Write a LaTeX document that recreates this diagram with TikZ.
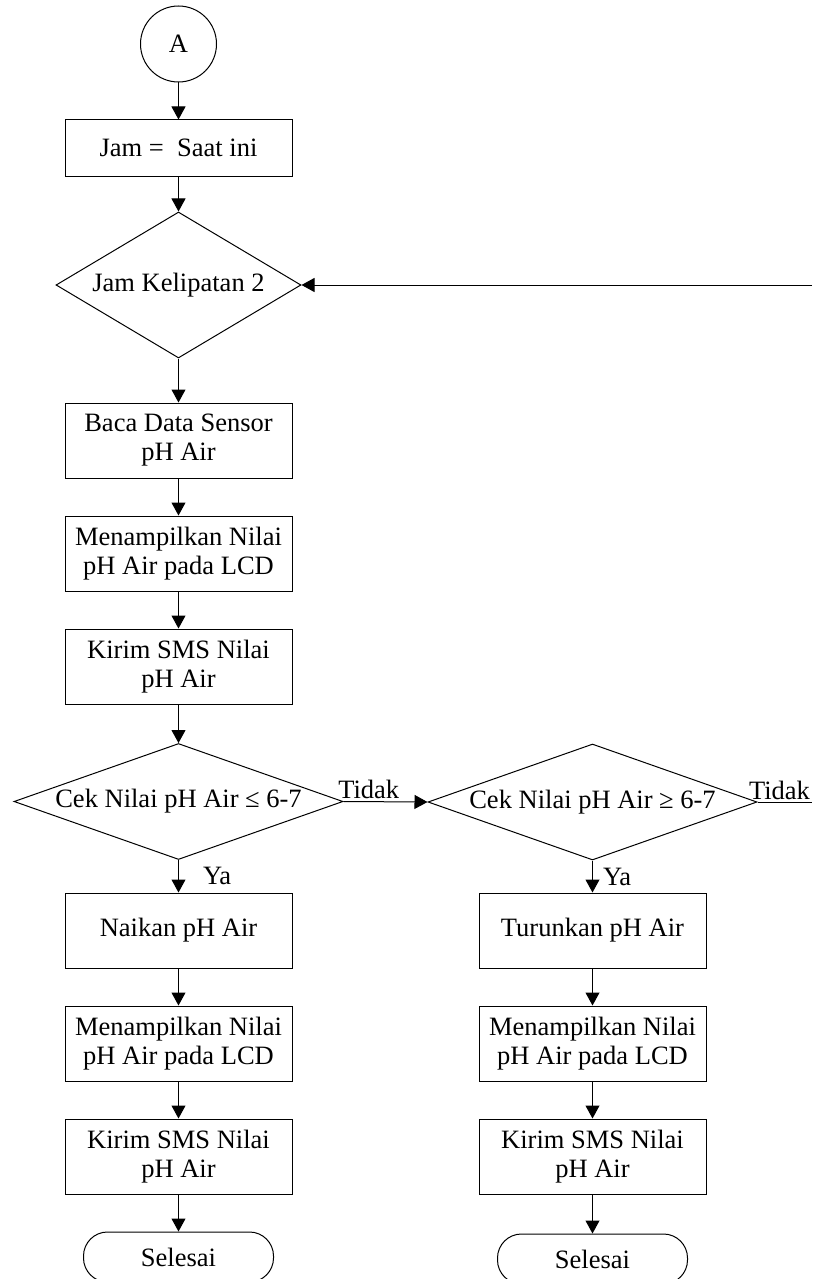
\documentclass[tikz,border=0pt]{standalone}
\usepackage{fontspec}
\setmainfont{Liberation Serif}
\usetikzlibrary{shapes.geometric,arrows.meta}
\begin{document}
\begin{tikzpicture}[x=1pt, y=-1pt,
  font=\fontsize{26.5}{29}\selectfont,
  line width=1pt,
  >={Triangle[length=13pt,width=14pt]},
  procbox/.style={draw, align=center, minimum width=227pt, minimum height=75pt, inner sep=0pt},
  decision/.style={draw, diamond, align=center, inner sep=0pt, minimum width=329pt, minimum height=116pt, aspect=2.8},
  endbox/.style={draw, rounded corners=24pt, minimum width=190pt, minimum height=50pt, inner sep=0pt},
  connector/.style={draw, circle, minimum size=76pt, inner sep=0pt},
  lbl/.style={inner sep=2pt}]
\useasboundingbox (0,0) rectangle (812,1279);
\node[connector] (a) at (178.5,44) {A};
\node[procbox, minimum height=56pt] (jam) at (178.5,148) {Jam = \ Saat ini};
\node[decision, minimum width=245pt, minimum height=146pt, aspect=1.68] (kel) at (178.5,285) {Jam Kelipatan 2};
\node[procbox] (baca) at (178.5,440.5) {Baca Data Sensor\\pH Air};
\node[procbox] (lcd1) at (178.5,553.5) {Menampilkan Nilai\\pH Air pada LCD};
\node[procbox] (sms1) at (178.5,666.5) {Kirim SMS Nilai\\pH Air};
\node[decision] (cek1) at (178.5,801.5) {Cek Nilai pH Air ≤ 6-7};
\node[decision] (cek2) at (592.5,802) {Cek Nilai pH Air ≥ 6-7};
\node[procbox] (naik) at (178.5,930.5) {Naikan pH Air};
\node[procbox] (lcd2) at (178.5,1043.5) {Menampilkan Nilai\\pH Air pada LCD};
\node[procbox] (sms2) at (178.5,1156.5) {Kirim SMS Nilai\\pH Air};
\node[endbox] (end1) at (178.5,1257) {Selesai};
\node[procbox] (turun) at (592.5,930.5) {Turunkan pH Air};
\node[procbox] (lcd3) at (592.5,1043.5) {Menampilkan Nilai\\pH Air pada LCD};
\node[procbox] (sms3) at (592.5,1156.5) {Kirim SMS Nilai\\pH Air};
\node[endbox] (end2) at (592.5,1259) {Selesai};
\coordinate (out) at (812,802);
\coordinate (back) at (812,285);
\draw[->] (a) -- (jam);
\draw[->] (jam) -- (kel);
\draw[->] (kel) -- (baca);
\draw[->] (baca) -- (lcd1);
\draw[->] (lcd1) -- (sms1);
\draw[->] (sms1) -- (cek1);
\draw[->] (cek1) -- node[lbl, right=22pt] {Ya} (naik);
\draw[->] (naik) -- (lcd2);
\draw[->] (lcd2) -- (sms2);
\draw[->] (sms2) -- (end1);
\draw[->] (cek1.east) -- node[lbl, above, pos=0.3] {Tidak} (cek2.west);
\draw[->] (cek2) -- node[lbl, right=8pt] {Ya} (turun);
\draw[->] (turun) -- (lcd3);
\draw[->] (lcd3) -- (sms3);
\draw[->] (sms3) -- (end2);
\draw (cek2.east) -- node[lbl, pos=0, anchor=south west, xshift=-11pt] {Tidak} (out);
\draw[->] (back) -- (kel.east);
\end{tikzpicture}
\end{document}
